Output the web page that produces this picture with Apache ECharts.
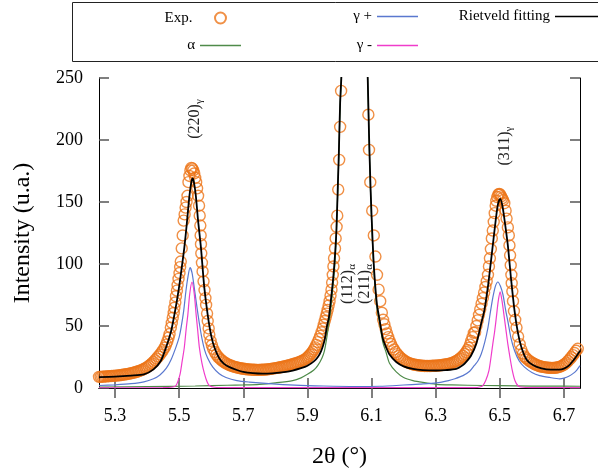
<!DOCTYPE html>
<html><head><meta charset="utf-8">
<script src="https://cdn.jsdelivr.net/npm/echarts@6/dist/echarts.min.js"></script>
<style>html,body{margin:0;padding:0;background:#fff}#c{width:598px;height:474px}</style>
</head><body><div id="c"></div>
<script>
// ---------- data ----------
const xTicks = [5.3, 5.5, 5.7, 5.9, 6.1, 6.3, 6.5, 6.7];
const yTicks = [0, 50, 100, 150, 200, 250];

const expX = [5.250,5.255,5.260,5.265,5.270,5.275,5.280,5.285,5.290,5.295,5.300,5.305,5.310,5.315,5.320,5.325,5.330,5.335,5.340,5.345,5.350,5.355,5.360,5.365,5.370,5.375,5.380,5.385,5.390,5.395,5.400,5.405,5.410,5.415,5.420,5.425,5.430,5.435,5.440,5.445,5.450,5.455,5.459,5.463,5.467,5.470,5.474,5.477,5.480,5.483,5.485,5.488,5.490,5.493,5.495,5.498,5.501,5.503,5.505,5.508,5.511,5.514,5.517,5.520,5.523,5.526,5.529,5.532,5.535,5.538,5.541,5.544,5.547,5.550,5.553,5.556,5.559,5.562,5.564,5.566,5.567,5.568,5.569,5.571,5.573,5.576,5.579,5.582,5.584,5.587,5.589,5.592,5.594,5.598,5.602,5.606,5.611,5.616,5.621,5.626,5.631,5.636,5.641,5.646,5.651,5.656,5.661,5.666,5.671,5.676,5.681,5.686,5.691,5.696,5.701,5.706,5.711,5.716,5.721,5.726,5.731,5.736,5.741,5.746,5.751,5.756,5.761,5.766,5.771,5.776,5.781,5.786,5.791,5.796,5.801,5.806,5.811,5.816,5.821,5.826,5.831,5.836,5.841,5.846,5.851,5.856,5.861,5.866,5.871,5.876,5.881,5.886,5.891,5.896,5.900,5.904,5.908,5.912,5.916,5.920,5.924,5.928,5.932,5.936,5.940,5.944,5.948,5.951,5.954,5.957,5.960,5.963,5.966,5.969,5.972,5.975,5.977,5.979,5.981,5.983,5.986,5.988,5.991,5.993,5.996,5.999,6.002,6.005,6.008,6.087,6.090,6.092,6.096,6.102,6.107,6.112,6.117,6.122,6.127,6.132,6.136,6.140,6.144,6.148,6.152,6.156,6.160,6.165,6.170,6.175,6.180,6.185,6.190,6.195,6.200,6.205,6.210,6.215,6.220,6.225,6.230,6.235,6.240,6.245,6.250,6.255,6.260,6.265,6.270,6.275,6.280,6.285,6.290,6.295,6.300,6.305,6.310,6.315,6.320,6.325,6.330,6.335,6.340,6.345,6.350,6.355,6.360,6.365,6.370,6.375,6.380,6.385,6.390,6.395,6.399,6.403,6.407,6.411,6.415,6.419,6.423,6.427,6.431,6.435,6.439,6.443,6.447,6.451,6.455,6.459,6.463,6.466,6.469,6.472,6.475,6.478,6.481,6.484,6.487,6.489,6.492,6.495,6.498,6.501,6.504,6.507,6.510,6.514,6.518,6.521,6.525,6.528,6.530,6.532,6.534,6.536,6.537,6.539,6.541,6.544,6.548,6.552,6.557,6.562,6.567,6.572,6.577,6.582,6.587,6.593,6.598,6.603,6.608,6.613,6.618,6.623,6.628,6.633,6.638,6.643,6.648,6.653,6.658,6.663,6.668,6.673,6.678,6.683,6.688,6.693,6.698,6.703,6.708,6.713,6.718,6.723,6.728,6.733,6.738,6.743,6.748];
const expY = [9.0,9.0,9.1,9.2,9.3,9.4,9.5,9.6,9.7,9.8,9.9,10.0,10.2,10.3,10.5,10.7,10.9,11.1,11.3,11.6,11.9,12.2,12.5,12.9,13.3,13.7,14.2,14.7,15.3,16.0,16.8,17.7,18.7,19.8,21.0,22.4,23.8,25.4,27.0,28.8,30.6,32.7,35.0,37.5,40.7,43.5,48.7,52.5,56.7,60.5,64.7,69.0,74.0,78.5,83.0,88.0,92.7,97.5,102.0,112.6,123.0,135.0,140.0,145.5,150.0,155.0,166.0,171.0,175.5,177.5,177.0,175.5,173.0,169.5,166.0,161.0,155.0,147.0,139.0,131.0,123.0,116.0,108.6,101.0,94.0,86.0,79.0,72.5,67.0,60.0,54.0,48.0,43.0,38.0,34.5,31.5,29.0,27.0,25.2,23.8,22.6,21.6,20.7,19.9,19.2,18.6,18.1,17.6,17.2,16.8,16.5,16.2,15.9,15.7,15.5,15.3,15.1,15.0,14.9,14.8,14.7,14.7,14.6,14.6,14.6,14.7,14.7,14.8,14.9,15.0,15.2,15.4,15.6,15.8,16.0,16.2,16.5,16.7,17.0,17.3,17.6,17.9,18.2,18.6,18.9,19.3,19.7,20.1,20.6,21.1,21.6,22.2,22.9,23.7,24.6,25.6,26.8,28.0,29.4,31.0,32.8,34.8,37.0,39.5,42.0,45.0,48.0,51.0,54.0,57.0,60.0,63.0,66.5,70.0,74.5,79.3,85.0,91.3,98.0,104.6,112.5,120.6,130.0,139.0,160.0,184.0,210.6,239.6,268.0,262.0,220.4,192.0,166.0,143.0,123.0,106.0,91.3,79.3,70.0,60.7,55.0,51.4,47.5,44.0,41.0,38.0,35.5,33.0,31.0,29.0,27.3,25.8,24.5,23.4,22.4,21.6,20.9,20.3,19.8,19.4,19.0,18.7,18.5,18.3,18.1,18.0,17.9,17.8,17.8,17.8,17.8,17.8,17.9,17.9,18.0,18.1,18.2,18.3,18.5,18.7,18.9,19.1,19.4,19.7,20.1,20.6,21.2,21.9,22.7,23.6,24.7,26.0,27.4,29.0,30.6,32.4,35.0,38.0,41.0,44.5,45.0,50.0,54.5,59.0,63.5,68.0,72.5,77.0,81.5,86.0,91.3,98.0,104.6,112.0,120.6,127.0,134.0,141.0,147.0,151.0,154.0,156.0,156.5,156.0,154.5,153.0,151.5,149.0,143.0,136.6,129.5,123.0,115.0,107.0,99.0,91.3,84.5,78.0,70.0,62.0,55.0,48.7,41.5,35.4,31.0,27.8,25.4,24.0,22.8,21.7,20.8,20.0,19.3,18.7,18.2,17.7,17.3,17.0,16.8,16.6,16.4,16.3,16.2,16.2,16.2,16.3,16.5,16.8,17.2,17.8,18.5,19.4,20.5,21.8,23.2,24.8,26.5,28.2,30.0,31.6];

const fitX = [5.25,5.30,5.35,5.39,5.42,5.443,5.459,5.475,5.49,5.500,5.508,5.516,5.524,5.532,5.538,5.542,5.546,5.552,5.559,5.568,5.578,5.589,5.600,5.610,5.625,5.640,5.657,5.680,5.700,5.730,5.760,5.790,5.820,5.854,5.880,5.900,5.920,5.932,5.943,5.953,5.961,5.967,5.972,5.979,5.984,5.990,5.995,5.998,6.002,6.006,6.015,6.030,6.045,6.060,6.075,6.085,6.088,6.092,6.097,6.103,6.109,6.117,6.125,6.135,6.145,6.156,6.177,6.200,6.229,6.260,6.302,6.330,6.364,6.385,6.395,6.410,6.427,6.440,6.452,6.463,6.470,6.478,6.487,6.494,6.501,6.508,6.516,6.525,6.535,6.546,6.556,6.567,6.583,6.603,6.630,6.660,6.685,6.700,6.715,6.730,6.740,6.750];
const fitY = [8.8,9.2,10.0,11.0,15.0,22.0,32.7,46.0,66.0,82.0,97.0,113.0,133.0,155.0,166.0,169.0,166.0,155.0,135.0,113.0,82.0,59.0,42.0,32.7,24.0,19.5,16.8,14.5,13.0,12.0,11.6,11.8,12.6,14.1,16.0,18.0,21.5,24.8,30.0,38.0,50.0,57.0,68.0,85.0,100.0,125.0,165.0,190.0,230.0,252.0,330.0,480.0,560.0,480.0,350.0,270.0,250.0,205.0,160.0,120.0,91.0,67.0,55.0,40.0,33.0,27.0,21.0,17.5,15.4,14.4,14.1,14.4,15.4,18.5,21.0,26.0,36.0,50.0,63.0,82.0,97.0,115.0,135.0,148.0,152.6,147.0,133.0,115.0,88.0,62.0,45.0,33.0,23.0,18.5,15.8,14.8,14.8,15.6,18.0,22.5,26.0,30.0];

const gpX = [5.25,5.30,5.35,5.39,5.42,5.44,5.46,5.475,5.49,5.50,5.506,5.514,5.521,5.527,5.534,5.540,5.547,5.555,5.563,5.571,5.579,5.589,5.605,5.625,5.646,5.68,5.719,5.78,5.86,5.95,6.05,6.125,6.2,6.25,6.302,6.34,6.36,6.385,6.406,6.42,6.432,6.442,6.453,6.463,6.471,6.478,6.486,6.494,6.502,6.510,6.518,6.525,6.535,6.546,6.56,6.577,6.60,6.624,6.655,6.687,6.70,6.715,6.73,6.74,6.75];
const gpY = [2.0,2.6,3.5,5.0,7.5,10.5,16.0,23.0,33.0,41.0,48.7,62.0,78.0,89.0,97.0,93.0,81.0,66.0,52.0,40.0,31.0,24.0,16.8,11.5,8.5,6.0,4.8,3.5,2.3,1.6,1.2,1.4,2.4,3.2,4.2,6.0,7.5,10.0,13.5,18.0,22.0,27.4,37.0,48.7,62.0,72.7,82.0,85.5,82.0,75.0,63.0,54.0,40.0,30.0,22.0,16.8,12.5,10.0,8.5,7.4,8.0,9.5,12.0,14.5,18.0];

const gmX = [5.25,5.45,5.48,5.49,5.497,5.503,5.509,5.516,5.522,5.527,5.533,5.540,5.547,5.553,5.558,5.563,5.571,5.579,5.587,5.594,5.61,5.65,6.42,6.44,6.447,6.456,6.466,6.472,6.478,6.484,6.489,6.495,6.501,6.507,6.514,6.520,6.525,6.532,6.539,6.547,6.556,6.565,6.60,6.75];
const gmY = [0.2,0.3,0.8,2.0,6.0,11.4,21.0,32.7,48.0,59.0,76.0,85.5,76.0,59.0,46.0,32.7,20.0,11.4,5.0,2.0,0.6,0.3,0.3,1.0,2.0,6.0,14.0,24.0,35.4,46.0,56.7,70.0,77.5,70.0,56.7,45.0,35.4,24.0,14.0,6.0,2.0,0.8,0.3,0.3];

const alX = [5.25,5.40,5.55,5.65,5.70,5.75,5.80,5.854,5.88,5.90,5.92,5.932,5.945,5.953,5.960,5.966,5.972,5.979,5.985,5.990,5.995,5.998,6.002,6.006,6.015,6.030,6.045,6.060,6.075,6.085,6.088,6.092,6.097,6.103,6.109,6.117,6.125,6.135,6.145,6.156,6.177,6.200,6.229,6.260,6.302,6.35,6.45,6.55,6.65,6.75];
const alY = [0.8,1.2,1.6,2.2,2.5,3.0,4.2,6.0,8.2,11.0,14.5,18.0,24.0,30.0,40.0,51.0,62.0,80.0,98.0,122.0,162.0,188.0,228.0,252.0,330.0,480.0,560.0,480.0,350.0,268.0,248.0,202.0,157.0,117.0,88.0,64.0,53.0,37.0,29.0,20.0,13.0,8.5,6.0,4.5,3.0,2.5,2.0,1.7,1.5,1.4];

const names = ['Exp.', 'α', 'γ +', 'γ -', 'Rietveld fitting'];
const peakLabels = [
  {main: '(220)', sub: 'γ'},
  {main: '(112)', sub: 'α'},
  {main: '(211)', sub: 'α'},
  {main: '(311)', sub: 'γ'}
];

// ---------- chart ----------
const zip = (xs, ys) => xs.map((x, i) => [x, ys[i]]);
const FONT = "'Liberation Serif', 'DejaVu Serif', serif";
const chart = echarts.init(document.getElementById('c'), null, {renderer: 'canvas'});

const lineSeries = (name, xs, ys, color, w) => ({
  name, type: 'line', data: zip(xs, ys), showSymbol: false, symbol: 'none',
  smooth: 0.25, lineStyle: {color, width: w}, itemStyle: {color}, clip: true, z: 3
});

const LINE_ICON = 'path://M0 0H41V1.4H0Z';
const legendBase = {
  orient: 'horizontal', align: 'right', padding: 0, selectedMode: false,
  itemHeight: 14, textStyle: {fontFamily: FONT, fontSize: 15, color: '#000'}
};
const lineLegend = (name, right, top, w) => Object.assign({}, legendBase, {
  data: [{name: name, icon: LINE_ICON}], right: right, top: top, itemWidth: w
});

const annPos = [[195, 119], [348, 284], [365, 284], [505, 146]];

chart.setOption({
  animation: false,
  backgroundColor: '#fff',
  grid: {left: 99, right: 18, top: 78, bottom: 83, containLabel: false},
  legend: [
    Object.assign({}, legendBase, {data: [{name: names[0], icon: 'circle'}], right: 371, top: 10.5, itemWidth: 46, itemHeight: 11}),
    lineLegend(names[2], 180, 9, 41),
    lineLegend(names[4], -2, 9, 45),
    lineLegend(names[1], 357, 38, 41),
    lineLegend(names[3], 180, 38, 41)
  ],
  xAxis: [{
    type: 'value', min: 5.25, max: 6.75, position: 'bottom',
    name: '2θ (°)', nameLocation: 'middle', nameGap: 57,
    nameTextStyle: {fontFamily: FONT, fontSize: 24, color: '#000'},
    axisLine: {show: true, lineStyle: {color: '#000', width: 1}},
    axisTick: {show: true, inside: true, length: 10, customValues: xTicks, lineStyle: {color: '#555', width: 1.5}},
    axisLabel: {show: true, customValues: xTicks, margin: 19, formatter: v => v.toFixed(1), fontFamily: FONT, fontSize: 18, color: '#000'},
    splitLine: {show: false}
  }, {
    type: 'value', min: 5.25, max: 6.75, position: 'top',
    axisLine: {show: true, lineStyle: {color: '#000', width: 1}},
    axisTick: {show: true, inside: true, length: 10, customValues: xTicks, lineStyle: {color: '#555', width: 1.5}},
    axisLabel: {show: false}, splitLine: {show: false}
  }],
  yAxis: [{
    type: 'value', min: 0, max: 250, interval: 50, position: 'left',
    name: 'Intensity (u.a.)', nameLocation: 'middle', nameGap: 64,
    nameTextStyle: {fontFamily: FONT, fontSize: 24, color: '#000'},
    axisLine: {show: true, lineStyle: {color: '#000', width: 1}},
    axisTick: {show: true, inside: true, length: 10, lineStyle: {color: '#555', width: 1.5}},
    axisLabel: {show: true, margin: 16, customValues: yTicks, fontFamily: FONT, fontSize: 18, color: '#000'},
    splitLine: {show: false}
  }, {
    type: 'value', min: 0, max: 250, interval: 50, position: 'right',
    axisLine: {show: true, lineStyle: {color: '#000', width: 1}},
    axisTick: {show: true, inside: true, length: 10, lineStyle: {color: '#555', width: 1.5}},
    axisLabel: {show: false}, splitLine: {show: false}
  }],
  series: [
    {
      name: names[0], type: 'scatter', data: zip(expX, expY), symbol: 'circle', symbolSize: 11,
      itemStyle: {color: 'rgba(0,0,0,0)', borderColor: '#ec7418', borderWidth: 1.4},
      clip: true, z: 2
    },
    lineSeries(names[1], alX, alY, '#4f8b4a', 1.2),
    lineSeries(names[2], gpX, gpY, '#5a78cf', 1.2),
    lineSeries(names[3], gmX, gmY, '#f03ccb', 1.2),
    lineSeries(names[4], fitX, fitY, '#000000', 1.8)
  ],
  graphic: [
    {type: 'rect', left: 70, top: 0, shape: {x: 0.5, y: 0.5, width: 560, height: 59},
     style: {fill: 'none', stroke: '#222', lineWidth: 1}, silent: true, z: -1}
  ].concat(peakLabels.map((p, i) => ({
    type: 'text', x: annPos[i][0], y: annPos[i][1], rotation: Math.PI / 2, silent: true,
    style: {
      text: '{m|' + p.main + '}{s|' + p.sub + '}',
      align: 'center', verticalAlign: 'middle',
      rich: {
        m: {fontFamily: FONT, fontSize: 16, lineHeight: 20, fill: '#222'},
        s: {fontFamily: FONT, fontSize: 11, lineHeight: 11, verticalAlign: 'bottom', fill: '#222'}
      }
    }
  })))
});
</script>
</body></html>
